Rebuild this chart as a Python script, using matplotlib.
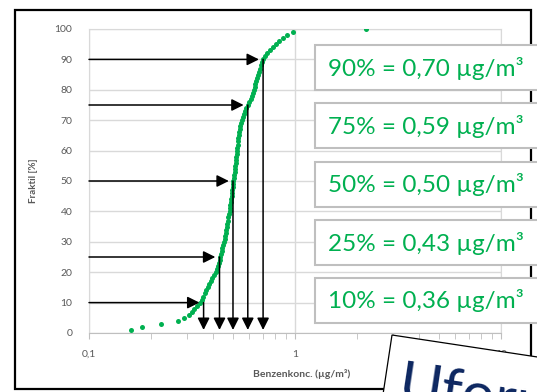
import matplotlib
matplotlib.use("Agg")
import matplotlib.pyplot as plt
from matplotlib.patches import Rectangle, Polygon
from matplotlib.ticker import FixedLocator, FixedFormatter, NullFormatter
import numpy as np

# sorted benzene concentrations (µg/m3), one per measuring point
conc = [
    0.160, 0.181, 0.224, 0.270, 0.290, 0.305, 0.315, 0.324, 0.333, 0.345,
    0.352, 0.358, 0.364, 0.370, 0.377, 0.384, 0.390, 0.397, 0.405, 0.412,
    0.420, 0.425, 0.428, 0.431, 0.434, 0.437, 0.440, 0.444, 0.448, 0.452,
    0.455, 0.458, 0.461, 0.464, 0.467, 0.470, 0.472, 0.475, 0.478, 0.481,
    0.484, 0.486, 0.489, 0.491, 0.493, 0.495, 0.497, 0.499, 0.500, 0.502,
    0.504, 0.507, 0.509, 0.511, 0.513, 0.515, 0.517, 0.519, 0.521, 0.523,
    0.525, 0.527, 0.529, 0.531, 0.533, 0.536, 0.539, 0.543, 0.548, 0.553,
    0.558, 0.564, 0.572, 0.580, 0.590, 0.600, 0.610, 0.618, 0.626, 0.632,
    0.637, 0.642, 0.648, 0.654, 0.660, 0.666, 0.674, 0.682, 0.691, 0.700,
    0.714, 0.730, 0.755, 0.785, 0.810, 0.840, 0.875, 0.910, 0.975, 2.200,
]
fraktil = np.arange(1, len(conc) + 1) * 100.0 / len(conc)

pct_levels = [90, 75, 50, 25, 10]
pct_values = [0.70, 0.59, 0.50, 0.43, 0.36]

x_ticks = [0.1, 1, 10]
x_ticklabels = ["0,1", "1", "10"]

GREEN = "#00b050"
GREY = "#595959"
plt.rcParams["font.family"] = ["Lato", "DejaVu Sans"]

W, H = 537, 392
fig = plt.figure(figsize=(W / 100, H / 100), dpi=100)


def fx(x):
    return x / W


def fy(y):
    return 1 - y / H


# chart frame
fig.add_artist(Rectangle((fx(15), fy(389)), fx(531) - fx(15), fy(10) - fy(389),
                         transform=fig.transFigure, fill=False, ec="black",
                         lw=1.6, zorder=1))

ax = fig.add_axes([fx(89), fy(333), fx(501) - fx(89), fy(29) - fy(333)])
ax.set_xscale("log")
ax.set_xlim(0.1, 10)
ax.set_ylim(0, 100)
ax.set_yticks(range(0, 101, 10))
ax.xaxis.set_major_locator(FixedLocator(x_ticks))
ax.xaxis.set_major_formatter(FixedFormatter(x_ticklabels))
ax.xaxis.set_minor_locator(FixedLocator(
    [m * d for d in (0.1, 1) for m in range(2, 10)]))
ax.xaxis.set_minor_formatter(NullFormatter())
ax.grid(True, which="major", color="#d9d9d9", lw=1)
ax.set_axisbelow(True)
for s in ax.spines.values():
    s.set_color("#d9d9d9")
ax.spines["bottom"].set_color("#bfbfbf")
ax.tick_params(axis="y", length=0, pad=12, labelsize=7.5, labelcolor=GREY)
ax.tick_params(axis="x", which="both", length=4, color="#bfbfbf",
               labelsize=7.5, labelcolor=GREY, pad=8)

ax.set_ylabel("Fraktil [%]", fontsize=7, color=GREY, fontweight="bold")
ax.yaxis.set_label_coords(-0.125, 0.5)
ax.set_xlabel("Benzenkonc. (µg/m³)", fontsize=7.5, color=GREY,
              fontweight="bold")
ax.xaxis.set_label_coords(0.515, -0.118)

ax.plot(conc, fraktil, "o", color=GREEN, ms=3.6, mec="none", zorder=3)

for p, v in zip(pct_levels, pct_values):
    ax.annotate("", xy=(v, p), xytext=(0.1, p),
                arrowprops=dict(arrowstyle="-|>", color="black", lw=1.1,
                                mutation_scale=18, shrinkA=0, shrinkB=3))
    ax.annotate("", xy=(v, 1), xytext=(v, p),
                arrowprops=dict(arrowstyle="-|>", color="black", lw=1.1,
                                mutation_scale=18, shrinkA=0, shrinkB=0))

# value boxes to the right
box_tops = [45, 103, 162, 220, 278]
for top, p, v in zip(box_tops, pct_levels, pct_values):
    fig.add_artist(Rectangle((fx(315), fy(top + 45)), fx(560) - fx(315),
                             fy(top) - fy(top + 45), transform=fig.transFigure,
                             fc="white", ec="#bfbfbf", lw=1.5, zorder=5))
    label = f"{p}% = {v:.2f}".replace(".", ",") + " µg/m³"
    fig.text(fx(328), fy(top + 23), label, color=GREEN, fontsize=17.5,
             ha="left", va="center", zorder=6)

# tilted card in the lower right corner
ang = np.deg2rad(8.6)
u = np.array([np.cos(ang), np.sin(ang)])
n = np.array([-np.sin(ang), np.cos(ang)])
p0 = np.array([392.0, 335.0])
corners = [p0, p0 + 300 * u, p0 + 300 * u + 200 * n, p0 + 200 * n]
fig.add_artist(Polygon([(fx(x), fy(y)) for x, y in corners],
                       transform=fig.transFigure, fc="white", ec="black",
                       lw=0.9, zorder=7))
base = p0 + 14 * u + 66 * n
fig.text(fx(base[0]), fy(base[1]), "Uforurenet", color="#0c2660",
         fontsize=42, rotation=-8.6, rotation_mode="anchor",
         ha="left", va="baseline", zorder=8)

fig.savefig("out.png", dpi=100)
